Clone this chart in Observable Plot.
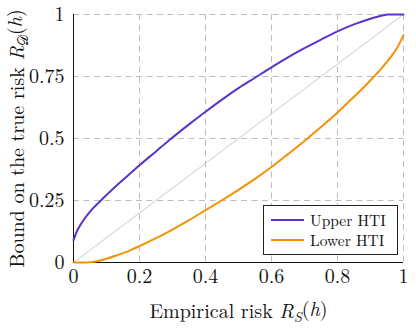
<!DOCTYPE html>
<html><head><meta charset="utf-8">
<script src="https://cdn.jsdelivr.net/npm/d3@7"></script>
<script src="https://cdn.jsdelivr.net/npm/@observablehq/plot@0.6"></script>
<style>
body{margin:0;background:#fff;}
#wrap{position:relative;width:416px;height:329px;}
</style>
</head><body>
<div id="wrap"></div>
<script>
const xTicks = [0, 0.2, 0.4, 0.6, 0.8, 1];
const xTickLabels = ["0", "0.2", "0.4", "0.6", "0.8", "1"];
const yTicks = [0, 0.25, 0.5, 0.75, 1];
const yTickLabels = ["0", "0.25", "0.5", "0.75", "1"];

const seriesNames = ["Upper HTI", "Lower HTI"];
const seriesColors = ["#5a33cc", "#f39207"];

const upperX = [0, 0.01, 0.025, 0.05, 0.083, 0.12, 0.16, 0.2, 0.25, 0.29, 0.35, 0.4, 0.45, 0.5, 0.55, 0.6, 0.65, 0.7, 0.75, 0.8, 0.85, 0.9, 0.93, 0.955, 0.98, 1];
const upperY = [0.09, 0.125, 0.16, 0.205, 0.25, 0.297, 0.345, 0.392, 0.448, 0.493, 0.557, 0.608, 0.657, 0.703, 0.745, 0.787, 0.827, 0.864, 0.899, 0.932, 0.960, 0.983, 0.994, 1, 1, 1];

const lowerX = [0, 0.03, 0.05, 0.075, 0.1, 0.125, 0.15, 0.175, 0.2, 0.25, 0.3, 0.35, 0.4, 0.45, 0.5, 0.55, 0.6, 0.65, 0.7, 0.75, 0.8, 0.85, 0.9, 0.93, 0.96, 0.98, 1];
const lowerY = [0, 0, 0.001, 0.006, 0.015, 0.026, 0.038, 0.051, 0.066, 0.098, 0.133, 0.171, 0.211, 0.251, 0.293, 0.337, 0.385, 0.437, 0.49, 0.546, 0.605, 0.668, 0.735, 0.778, 0.826, 0.864, 0.917];

const diagX = [0, 1];
const diagY = [0, 1];

const upper = upperX.map((x, i) => ({x, y: upperY[i]}));
const lower = lowerX.map((x, i) => ({x, y: lowerY[i]}));
const diag = diagX.map((x, i) => ({x, y: diagY[i]}));

const fmtX = d => xTickLabels[xTicks.indexOf(d)];
const fmtY = d => yTickLabels[yTicks.indexOf(d)];

const FONT = "'Latin Modern Roman', 'LM Roman 10', 'Liberation Serif', serif";

const chart = Plot.plot({
  width: 416,
  height: 329,
  marginLeft: 73,
  marginRight: 13,
  marginTop: 14,
  marginBottom: 67,
  style: {fontFamily: FONT, fontSize: "20px", background: "#fff", color: "#111"},
  x: {domain: [0, 1]},
  y: {domain: [0, 1]},
  marks: [
    Plot.gridX(xTicks, {stroke: "#bdbdbd", strokeOpacity: 1, strokeWidth: 1, strokeDasharray: "6,4.5"}),
    Plot.gridY(yTicks, {stroke: "#bdbdbd", strokeOpacity: 1, strokeWidth: 1, strokeDasharray: "6,4.5"}),
    Plot.line(diag, {x: "x", y: "y", stroke: "#c4c4c4", strokeWidth: 0.9}),
    Plot.ruleX([0], {stroke: "#111", strokeWidth: 1}),
    Plot.ruleY([0], {stroke: "#111", strokeWidth: 1}),
    Plot.axisX(xTicks, {tickFormat: fmtX, tickSize: 0, tickPadding: 6, fontSize: 20,
      label: "Empirical risk R_S(h)", labelAnchor: "center", labelArrow: "none", labelOffset: 55}),
    Plot.axisY(yTicks, {tickFormat: fmtY, tickSize: 0, tickPadding: 9, fontSize: 20,
      label: "Bound on the true risk R_D(h)", labelAnchor: "center", labelArrow: "none", labelOffset: 64}),
    Plot.line(upper, {x: "x", y: "y", stroke: seriesColors[0], strokeWidth: 2, curve: "monotone-x"}),
    Plot.line(lower, {x: "x", y: "y", stroke: seriesColors[1], strokeWidth: 2, curve: "monotone-x"})
  ]
});

function mathLabel(sel, prefix, sub) {
  sel.text(null);
  sel.append("tspan").text(prefix);
  sel.append("tspan").attr("font-style", "italic").text("R");
  sel.append("tspan").attr("font-style", sub === "𝒟" ? "normal" : "italic").attr("font-size", "14px").attr("dy", "0.3em").text(sub);
  sel.append("tspan").attr("dy", "-0.3em").text("(");
  sel.append("tspan").attr("font-style", "italic").text("h");
  sel.append("tspan").text(")");
}
const svg = d3.select(chart);
svg.attr("font-family", FONT).style("font-family", FONT);
svg.selectAll("g").attr("font-family", FONT);
svg.selectAll("text").attr("font-family", FONT).style("font-family", FONT).style("font-variant-numeric", "normal");
svg.selectAll("text").each(function() {
  const t = d3.select(this);
  const s = t.text();
  if (s === "Empirical risk R_S(h)") {
    t.attr("font-size", 20);
    mathLabel(t, "Empirical risk ", "S");
  } else if (s === "Bound on the true risk R_D(h)") {
    t.attr("font-size", 20);
    mathLabel(t, "Bound on the true risk ", "𝒟");
  }
});

const wrap = document.getElementById("wrap");
wrap.appendChild(chart);
const leg = document.createElement("div");
leg.style.cssText = "position:absolute;left:263px;top:205px;width:135px;height:50px;border:1px solid #222;background:#fff;box-sizing:border-box;font-family:" + FONT + ";font-size:15.5px;color:#111;";
seriesNames.forEach((n, i) => {
  const it = document.createElement("div");
  it.style.cssText = "position:absolute;left:0;width:100%;height:20px;line-height:20px;top:" + (4 + i * 20) + "px;";
  const sw = document.createElement("div");
  sw.style.cssText = "position:absolute;left:7px;top:9px;width:33px;height:2px;background:" + seriesColors[i] + ";";
  const lb = document.createElement("div");
  lb.style.cssText = "position:absolute;left:46px;top:0;white-space:nowrap;font-family:" + FONT + ";";
  lb.textContent = n;
  it.appendChild(sw); it.appendChild(lb);
  leg.appendChild(it);
});
wrap.appendChild(leg);
</script>
</body></html>
